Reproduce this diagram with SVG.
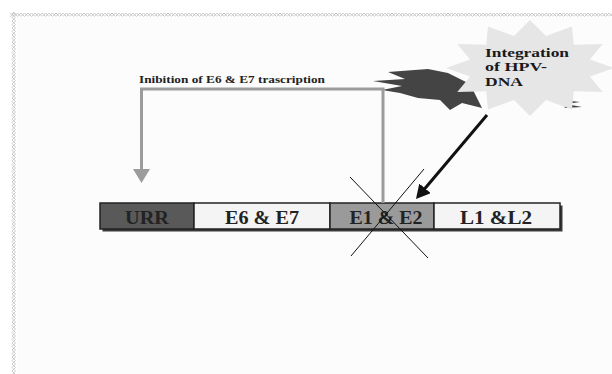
<svg xmlns="http://www.w3.org/2000/svg" width="612" height="374" viewBox="0 0 612 374">
  <defs>
    <pattern id="zzH" x="0" y="12" width="7" height="6" patternUnits="userSpaceOnUse">
      <path d="M0,1 L3.5,4.5 L7,1 M0,4.5 L3.5,1 L7,4.5" fill="none" stroke="#c4c4c4" stroke-width="0.9"/>
    </pattern>
    <pattern id="zzV" x="11" y="0" width="6" height="7" patternUnits="userSpaceOnUse">
      <path d="M1,0 L4.5,3.5 L1,7 M4.5,0 L1,3.5 L4.5,7" fill="none" stroke="#c4c4c4" stroke-width="0.9"/>
    </pattern>
    <marker id="grayHead" markerUnits="userSpaceOnUse" markerWidth="14" markerHeight="17" refX="7" refY="8.5" orient="auto" viewBox="0 0 14 17">
      <path d="M0,0 L14,8.5 L0,17 z" fill="#9c9c9c"/>
    </marker>
    <marker id="blackHead" markerUnits="userSpaceOnUse" markerWidth="14" markerHeight="15" refX="7" refY="7.5" orient="auto" viewBox="0 0 14 15">
      <path d="M0,0 L14,7.5 L0,15 z" fill="#111"/>
    </marker>
    <style>
      .seg { stroke: #222; stroke-width: 1.5; }
      .segtxt { font-family: "Liberation Serif", "Times New Roman", serif; font-weight: bold; font-size: 18px; fill: #222; text-anchor: middle; }
      .lbl { font-family: "Liberation Serif", "Times New Roman", serif; font-weight: bold; font-size: 10.5px; fill: #222; }
      .startxt { font-family: "Liberation Serif", "Times New Roman", serif; font-weight: bold; font-size: 13px; fill: #1a1a1a; }
    </style>
  </defs>

  <rect x="0" y="0" width="612" height="374" fill="#ffffff"/>
  <rect x="17" y="18" width="595" height="356" fill="#fcfcfc"/>
  <rect x="10" y="12" width="602" height="6" fill="url(#zzH)"/>
  <rect x="11" y="12" width="6" height="362" fill="url(#zzV)"/>

  <g id="integration">
    <polygon points="373,81 405,79 388,72 428,69 448,73 470,84 482,108 462,103 450,110 440,100 418,98 400,93 382,90 402,86" fill="#444"/>
    <polygon points="562,100 580,102 566,104 582,107 565,108" fill="#444"/>
    <polygon points="530,20 546,36 572,26.4 573.8,44.7 602.7,44 589.9,59.5 614,68 589.9,76.5 602.7,92 573.8,91.3 572,109.6 546,99.9 530,116 514,99.9 488,109.6 486.2,91.3 457.3,92 470.1,76.5 446,68 470.1,59.5 457.3,44 486.2,44.7 488,26.4 514,36" fill="#e6e6e6"/>
    <text class="startxt" x="485" y="56.5" textLength="84" lengthAdjust="spacingAndGlyphs">Integration</text>
    <text class="startxt" x="485" y="71" textLength="62" lengthAdjust="spacingAndGlyphs">of HPV-</text>
    <text class="startxt" x="485" y="85.5" textLength="38" lengthAdjust="spacingAndGlyphs">DNA</text>
  </g>

  <g id="inhibition-label">
    <text class="lbl" x="139" y="83" textLength="186" lengthAdjust="spacingAndGlyphs">Inibition of E6 &amp; E7 trascription</text>
  </g>

  <g id="genome">
    <rect x="102.5" y="205.5" width="460" height="26" fill="#3a3a3a"/>
    <g id="URR">
      <rect class="seg" x="100" y="203" width="94" height="26" fill="#595959"/>
      <text class="segtxt" x="147" y="224" textLength="44" lengthAdjust="spacingAndGlyphs">URR</text>
    </g>
    <g id="E6E7">
      <rect class="seg" x="194" y="203" width="136" height="26" fill="#f4f4f4"/>
      <text class="segtxt" x="262" y="224" textLength="74" lengthAdjust="spacingAndGlyphs">E6 &amp; E7</text>
    </g>
    <g id="E1E2">
      <rect class="seg" x="330" y="203" width="104" height="26" fill="#9a9a9a"/>
      <text class="segtxt" x="386" y="224" textLength="73" lengthAdjust="spacingAndGlyphs">E1 &amp; E2</text>
    </g>
    <g id="L1L2">
      <rect class="seg" x="434" y="203" width="126" height="26" fill="#f4f4f4"/>
      <text class="segtxt" x="496" y="224" textLength="72" lengthAdjust="spacingAndGlyphs">L1 &amp;L2</text>
    </g>
  </g>

  <g id="connectors">
    <path d="M383,203 L383,89 L141.5,89 L141.5,176" fill="none" stroke="#9c9c9c" stroke-width="3" marker-end="url(#grayHead)"/>
    <line x1="487" y1="115" x2="420.5" y2="193.7" stroke="#111" stroke-width="3" marker-end="url(#blackHead)"/>
    <line x1="350" y1="177" x2="428" y2="258" stroke="#111" stroke-width="1"/>
    <line x1="424" y1="169" x2="351" y2="256" stroke="#111" stroke-width="1"/>
  </g>
</svg>
